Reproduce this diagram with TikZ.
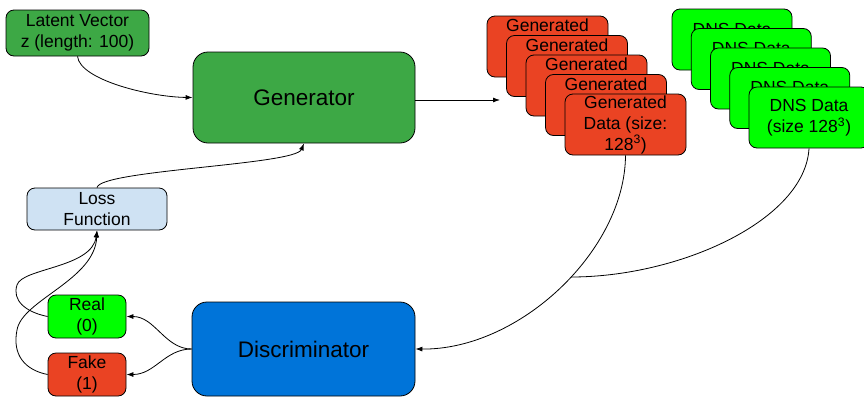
\documentclass[tikz,border=0pt]{standalone}
\usepackage{fontspec}
\setmainfont{Liberation Sans}
\usetikzlibrary{arrows.meta}
\definecolor{medgreen}{RGB}{61,168,69}
\definecolor{brightgreen}{RGB}{0,255,0}
\definecolor{redorange}{RGB}{234,67,35}
\definecolor{discblue}{RGB}{0,116,217}
\definecolor{lightblue}{RGB}{207,226,243}
\begin{document}
\begin{tikzpicture}[x=1pt,y=-1pt,
  box/.style={draw=black, line width=0.8pt, rounded corners=8pt, align=center, inner sep=0pt, font=\fontsize{17.5}{21}\selectfont},
  bigbox/.style={box, rounded corners=15pt, font=\fontsize{22.5}{27}\selectfont},
  txt/.style={inner sep=0pt, font=\fontsize{17.5}{21}\selectfont},
  conn/.style={draw=black, line width=0.8pt},
  arr/.style={conn, -{Latex[length=7pt,width=5pt]}}]
\useasboundingbox (0,0) rectangle (864,397);

\node[box, fill=medgreen, minimum width=143pt, minimum height=46pt] (latent) at (77.5,33) {Latent Vector\\z (length: 100)};
\node[bigbox, fill=medgreen, minimum width=222pt, minimum height=91pt] (gen) at (304,97.5) {Generator};

\foreach \i in {0,...,3}{
  \node[box, fill=redorange, minimum width=121pt, minimum height=61pt] (gd\i) at (547.5+19.5*\i, 46.5+19.5*\i) {};
  \node[txt] (gdt\i) at (547.5+19.5*\i, 46.5+19.5*\i-21) {Generated};
}
\node[box, fill=redorange, minimum width=121pt, minimum height=61pt] (gd4) at (625.5,124.5) {Generated\\Data (size:\\128\textsuperscript{3})};

\foreach \i in {0,...,3}{
  \node[box, fill=brightgreen, minimum width=120pt, minimum height=61pt] (dns\i) at (732+19.25*\i, 39.5+19.5*\i) {};
  \node[txt] (dnst\i) at (732+19.25*\i, 39.5+19.5*\i-10.5) {DNS Data};
}
\node[box, fill=brightgreen, minimum width=120pt, minimum height=61pt] (dns4) at (809,117.5) {DNS Data\\(size 128\textsuperscript{3})};

\node[box, fill=lightblue, minimum width=140pt, minimum height=42pt] (loss) at (97,209) {Loss\\Function};
\node[box, fill=brightgreen, minimum width=78pt, minimum height=43pt] (real) at (87,316.5) {Real\\(0)};
\node[box, fill=redorange, minimum width=78pt, minimum height=43pt] (fake) at (87,374.5) {Fake\\(1)};
\node[bigbox, fill=discblue, minimum width=223pt, minimum height=94pt] (disc) at (303.5,349) {Discriminator};

\coordinate (stacktip) at (500,100);
\coordinate (join) at (571,277);

\draw[arr] (latent.south) .. controls (80,80) and (150,97) .. (gen.west);
\draw[arr] ([yshift=-2.5pt]gen.east) -- (stacktip);
\draw[arr] (loss.north) .. controls (100,170) and (295,165) .. (gen.south);
\draw[arr] (real.west) .. controls (25,312) and (12,300) .. (17,285) .. controls (22,268) and (92,268) .. (loss.south);
\draw[arr] (fake.west) .. controls (25,370) and (12,355) .. (17,330) .. controls (22,300) and (95,280) .. (loss.south);
\draw[arr] (disc.west) .. controls (165,349) and (155,316.5) .. (real.east);
\draw[arr] (disc.west) .. controls (165,349) and (155,374.5) .. (fake.east);
\draw[arr] (gd4.south) .. controls (625,250) and (520,350) .. (disc.east);
\draw[conn] (dns4.south) .. controls (805,220) and (680,277) .. (join);
\end{tikzpicture}
\end{document}
